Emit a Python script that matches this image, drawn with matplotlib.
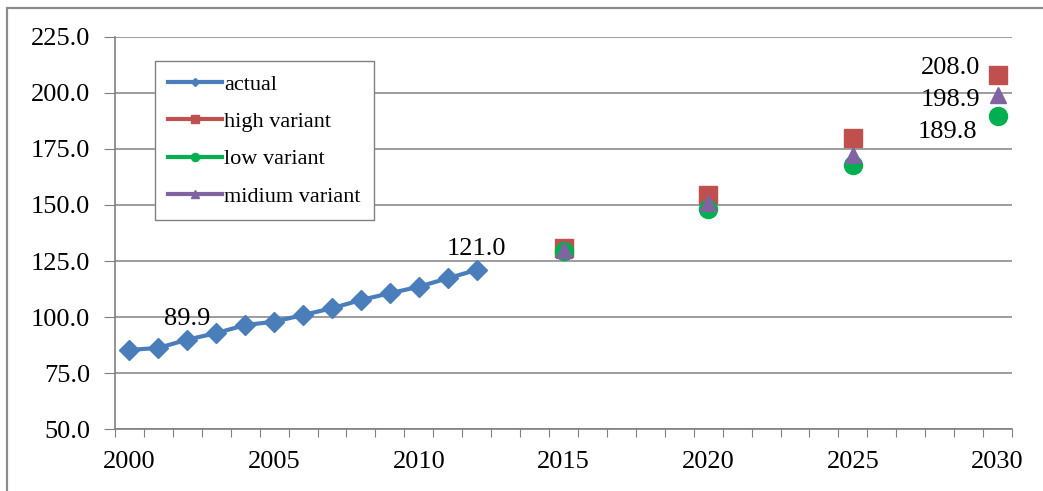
import numpy as np
import matplotlib.pyplot as plt
from matplotlib.patches import Rectangle

# data
actual_years = list(range(2000, 2013))
actual_vals = [85.3, 86.2, 89.9, 92.8, 96.4, 97.9, 100.9, 103.9, 107.6, 110.6, 113.5, 117.3, 121.0]
proj_years = [2015, 2020, 2025, 2030]
high_vals = [130.8, 154.3, 180.0, 208.0]
low_vals = [129.5, 148.0, 168.0, 189.8]
mid_vals = [130.0, 151.0, 172.5, 198.9]
xtick_labels = ['2000', '2005', '2010', '2015', '2020', '2025', '2030']

plt.rcParams['font.family'] = ['Liberation Serif', 'DejaVu Serif']

fig = plt.figure(figsize=(10.43, 4.91), dpi=100)
ax = fig.add_axes([115/1043, 1 - 429/491, 897/1043, 392/491])

# outer chart frame
fig.patches.append(Rectangle((7/1043, -0.1), 1.2, 1 - 8/491 + 0.1, transform=fig.transFigure,
                             fill=False, edgecolor='#8c8c8c', linewidth=1.6))

blue = '#4a7ebb'
red = '#c0504d'
green = '#00b050'
purple = '#8064a2'

ax.plot(actual_years, actual_vals, color=blue, lw=3, marker='D', ms=10, label='actual', zorder=3)
ax.plot(proj_years, high_vals, color=red, lw=0, marker='s', ms=13, label='high variant', zorder=3)
ax.plot(proj_years, low_vals, color=green, lw=0, marker='o', ms=13, label='low variant', zorder=3)
ax.plot(proj_years, mid_vals, color=purple, lw=0, marker='^', ms=12, label='midium variant', zorder=4)

fs = 19
ax.text(2002, actual_vals[2] + 4.5, '89.9', ha='center', va='bottom', fontsize=fs)
ax.text(2012, actual_vals[-1] + 4.5, '121.0', ha='center', va='bottom', fontsize=fs)
ax.text(2029.4, high_vals[-1] + 3, '208.0', ha='right', va='center', fontsize=fs)
ax.text(2029.4, mid_vals[-1] - 2, '198.9', ha='right', va='center', fontsize=fs)
ax.text(2029.3, low_vals[-1] - 7, '189.8', ha='right', va='center', fontsize=fs)

ax.set_xlim(1999.5, 2030.5)
ax.set_ylim(50, 225)
ax.set_yticks(np.arange(50, 226, 25))
ax.set_yticklabels([f'{v:.1f}' for v in np.arange(50, 226, 25)], fontsize=fs)
ax.set_xticks(np.arange(1999.5, 2031, 1))
ax.set_xticklabels([])
ax.set_xticks([int(t) for t in xtick_labels], minor=True)
ax.set_xticklabels(xtick_labels, minor=True, fontsize=fs)
ax.tick_params(axis='x', which='major', length=6, color='#808080', direction='out')
ax.tick_params(axis='x', which='minor', length=0, pad=16)
ax.tick_params(axis='y', length=8, color='#808080', pad=10)
ax.grid(axis='y', color='#8c8c8c', lw=1.2)
ax.set_axisbelow(True)
for s in ['top', 'right']:
    ax.spines[s].set_visible(False)
for s in ['left', 'bottom']:
    ax.spines[s].set_color('#808080')
    ax.spines[s].set_linewidth(1.2)

leg = ax.legend(loc='upper left', bbox_to_anchor=(40/897, 1 - 24/392), borderaxespad=0,
                fontsize=16, fancybox=False, framealpha=1, edgecolor='#808080', handlelength=2.4,
                handletextpad=0.1, labelspacing=0.75, borderpad=0.6, markerscale=0.45)
for h in leg.legend_handles:
    h.set_linewidth(3)

fig.savefig('out.png')
